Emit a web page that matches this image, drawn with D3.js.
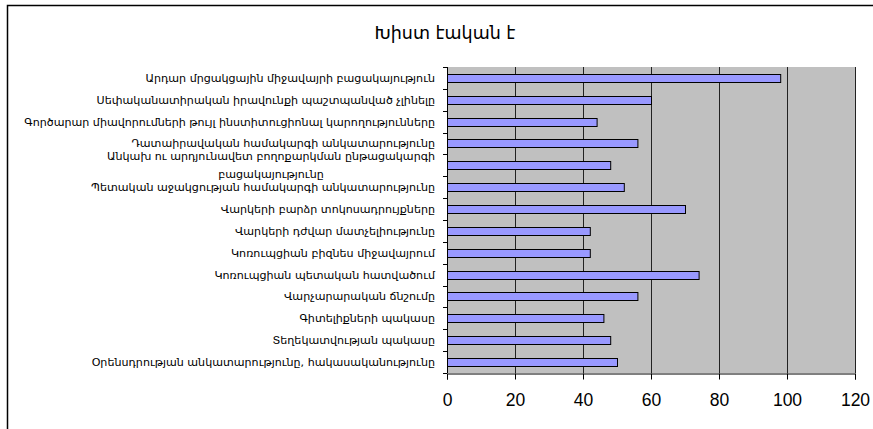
<!DOCTYPE html>
<html>
<head>
<meta charset="utf-8">
<script src="https://cdn.jsdelivr.net/npm/d3@7"></script>
<style>
  body { margin: 0; background: #fff; }
  text { font-family: "DejaVu Sans", sans-serif; }
</style>
</head>
<body>
<svg id="chart"></svg>
<script>
'use strict';

var title = "Խիստ էական է";

var categories = [
    "Արդար մրցակցային միջավայրի բացակայություն",
    "Սեփականատիրական իրավունքի պաշտպանված չլինելը",
    "Գործարար միավորումների թույլ ինստիտուցիոնալ կարողությունները",
    "Դատաիրավական համակարգի անկատարությունը",
    "Անկախ ու արդյունավետ բողոքարկման ընթացակարգի|բացակայությունը",
    "Պետական աջակցության համակարգի անկատարությունը",
    "Վարկերի բարձր տոկոսադրույքները",
    "Վարկերի դժվար մատչելիությունը",
    "Կոռուպցիան բիզնես միջավայրում",
    "Կոռուպցիան պետական հատվածում",
    "Վարչարարական ճնշումը",
    "Գիտելիքների պակասը",
    "Տեղեկատվության պակասը",
    "Օրենսդրության անկատարությունը, հակասականությունը"
];

var values = [98, 60, 44, 56, 48, 52, 70, 42, 42, 74, 56, 46, 48, 50];

var xTicks = [0, 20, 40, 60, 80, 100, 120];

function draw() {
    var width = 873,
        height = 429;

    var plot = { left: 447, right: 855, top: 67, bottom: 373 };

    var svg = d3.select("#chart")
                .attr("width", width)
                .attr("height", height);

    svg.append("rect")
        .attr("x", 7.5).attr("y", 5.5)
        .attr("width", width).attr("height", height)
        .attr("fill", "#fff")
        .attr("stroke", "#000")
        .attr("stroke-width", 1.5);

    svg.append("text")
        .attr("x", 445).attr("y", 39)
        .attr("text-anchor", "middle")
        .style("font-size", "17.5px")
        .text(title);

    var x = d3.scaleLinear()
              .domain([0, 120])
              .range([plot.left, plot.right]);

    var y = d3.scaleBand()
              .domain(d3.range(categories.length))
              .range([plot.top, plot.bottom])
              .paddingInner(0.63)
              .paddingOuter(0.315);

    var band = d3.scaleBand()
              .domain(d3.range(categories.length))
              .range([plot.top, plot.bottom]);

    svg.append("rect")
        .attr("x", plot.left).attr("y", plot.top)
        .attr("width", plot.right - plot.left)
        .attr("height", plot.bottom - plot.top)
        .attr("fill", "#c0c0c0");

    svg.append("g")
        .selectAll("line")
        .data(xTicks.slice(1))
        .enter().append("line")
            .attr("x1", function(d) { return Math.round(x(d)) + 0.5; })
            .attr("x2", function(d) { return Math.round(x(d)) + 0.5; })
            .attr("y1", plot.top)
            .attr("y2", plot.bottom)
            .attr("stroke", "#222");

    svg.append("g")
        .selectAll("rect")
        .data(values)
        .enter().append("rect")
            .attr("x", x(0) + 0.5)
            .attr("y", function(d, i) { return Math.round(y(i)) + 0.5; })
            .attr("width", function(d) { return x(d) - x(0); })
            .attr("height", Math.round(y.bandwidth()))
            .attr("fill", "#9999ff")
            .attr("stroke", "#000")
            .attr("stroke-width", 1);

    // x axis
    var xAxis = svg.append("g")
                   .attr("transform", "translate(0," + (plot.bottom + 0.5) + ")")
                   .call(d3.axisBottom(x).tickValues(xTicks).tickSize(6).tickPadding(14));
    xAxis.select(".domain").attr("stroke", "#000");
    xAxis.selectAll("text")
        .style("font-family", "Liberation Sans, Arial, sans-serif")
        .style("font-size", "17.5px")
        .attr("fill", "#000");

    // y axis with ticks at band boundaries
    var yAxis = svg.append("g");
    yAxis.append("line")
        .attr("x1", plot.left + 0.5).attr("x2", plot.left + 0.5)
        .attr("y1", plot.top).attr("y2", plot.bottom)
        .attr("stroke", "#000");
    yAxis.selectAll(".tick")
        .data(d3.range(categories.length + 1))
        .enter().append("line")
            .attr("x1", plot.left - 4).attr("x2", plot.left)
            .attr("y1", function(d) { return Math.round(plot.top + d * band.step()) + 0.5; })
            .attr("y2", function(d) { return Math.round(plot.top + d * band.step()) + 0.5; })
            .attr("stroke", "#000");

    var labels = svg.append("g")
                    .selectAll("text")
                    .data(categories)
                    .enter().append("text")
                        .style("font-size", "11.1px")
                        .attr("fill", "#000");

    labels.each(function(d, i) {
        var lines = d.split("|");
        var cy = band(i) + band.bandwidth() / 2;
        var t = d3.select(this);
        if (lines.length === 1) {
            t.attr("x", 435).attr("y", cy).attr("dy", "0.35em")
             .attr("text-anchor", "end").text(d);
        } else {
            var first = t.attr("y", cy).attr("text-anchor", "middle");
            var spans = lines.map(function(l, k) {
                return first.append("tspan").attr("dy", k === 0 ? "-0.45em" : "1.6em").text(l);
            });
            var w = spans[0].node().getComputedTextLength();
            spans.forEach(function(s) { s.attr("x", 435 - w / 2); });
        }
    });
}

draw();
</script>
</body>
</html>
